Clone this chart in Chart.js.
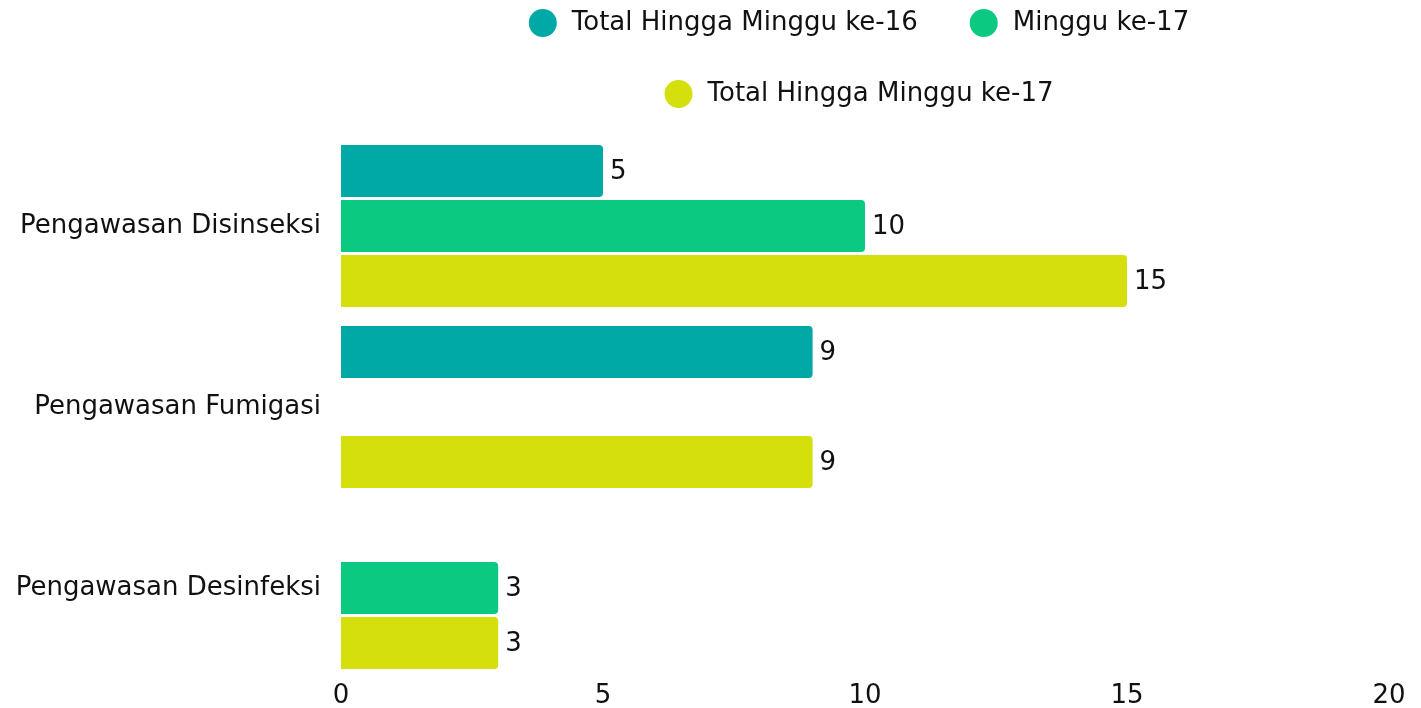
<!DOCTYPE html>
<html>
<head>
<meta charset="utf-8">
<script src="https://cdn.jsdelivr.net/npm/chart.js@4.4.1/dist/chart.umd.min.js"></script>
<style>
  html, body { margin: 0; padding: 0; background: #ffffff; }
  #wrap { position: relative; width: 1421px; height: 708px; }
</style>
</head>
<body>
<div id="wrap"><canvas id="c"></canvas></div>
<script>
const categories = ['Pengawasan Disinseksi', 'Pengawasan Fumigasi', 'Pengawasan Desinfeksi'];
const seriesNames = ['Total Hingga Minggu ke-16', 'Minggu ke-17', 'Total Hingga Minggu ke-17'];
const totalMinggu16 = [5, 9, null];
const minggu17 = [10, null, 3];
const totalMinggu17 = [15, 9, 3];
const xTicks = [0, 5, 10, 15, 20];
const seriesColors = ['#00A8A6', '#0BC980', '#D4DF0B'];

const FONT = '"DejaVu Sans", sans-serif';
const FONT_SIZE = 26;
const TEXT_COLOR = '#111111';

const legendPlugin = {
  id: 'customLegend',
  afterDraw(chart) {
    const ctx = chart.ctx;
    const ds = chart.data.datasets;
    const rows = [[0, 1], [2]];
    const rowY = [23, 94];
    const centerX = 859;
    const r = 14, gapText = 15, gapItem = 52;
    ctx.save();
    ctx.font = FONT_SIZE + 'px ' + FONT;
    rows.forEach((row, ri) => {
      const widths = row.map(i => 2 * r + gapText + ctx.measureText(ds[i].label).width);
      const total = widths.reduce((a, b) => a + b, 0) + gapItem * (row.length - 1);
      let x = centerX - total / 2;
      row.forEach((i, k) => {
        const cy = rowY[ri];
        ctx.beginPath();
        ctx.arc(x + r, cy, r, 0, Math.PI * 2);
        ctx.fillStyle = ds[i].backgroundColor;
        ctx.fill();
        ctx.fillStyle = TEXT_COLOR;
        ctx.textAlign = 'left';
        ctx.textBaseline = 'alphabetic';
        ctx.fillText(ds[i].label, x + 2 * r + gapText, cy + 6.5);
        x += widths[k] + gapItem;
      });
    });
    ctx.restore();
  }
};

const valueLabelPlugin = {
  id: 'valueLabels',
  afterDatasetsDraw(chart) {
    const ctx = chart.ctx;
    ctx.save();
    ctx.font = FONT_SIZE + 'px ' + FONT;
    ctx.fillStyle = TEXT_COLOR;
    ctx.textAlign = 'left';
    ctx.textBaseline = 'middle';
    chart.data.datasets.forEach((d, di) => {
      const meta = chart.getDatasetMeta(di);
      meta.data.forEach((el, i) => {
        const v = d.data[i];
        if (v === null || v === undefined) return;
        ctx.fillText(String(v), el.x + 7, el.y + 1);
      });
    });
    ctx.restore();
  }
};

const datasets = [totalMinggu16, minggu17, totalMinggu17].map((vals, i) => ({
  label: seriesNames[i],
  data: vals,
  backgroundColor: seriesColors[i],
  borderWidth: 0,
  borderRadius: 4,
  borderSkipped: 'start',
  categoryPercentage: 0.912,
  barPercentage: 0.945
}));

new Chart(document.getElementById('c'), {
  type: 'bar',
  data: { labels: categories, datasets },
  options: {
    indexAxis: 'y',
    responsive: true,
    maintainAspectRatio: false,
    animation: false,
    layout: { padding: { top: 135.5, right: 32, left: 0, bottom: 0 } },
    plugins: {
      legend: { display: false },
      tooltip: { enabled: false }
    },
    scales: {
      x: {
        min: xTicks[0],
        max: xTicks[xTicks.length - 1],
        afterBuildTicks(scale) { scale.ticks = xTicks.map(v => ({ value: v })); },
        afterFit(scale) { scale.height = 29.5; },
        grid: { display: false, drawTicks: false },
        border: { display: false },
        ticks: { padding: 2, color: TEXT_COLOR, font: { family: FONT, size: FONT_SIZE }, maxRotation: 0 }
      },
      y: {
        afterFit(scale) {
          scale.width = 341;
          scale.paddingTop = 0;
          scale.paddingBottom = 0;
        },
        grid: { display: false, drawTicks: false },
        border: { display: false },
        ticks: { padding: 20, color: TEXT_COLOR, font: { family: FONT, size: FONT_SIZE } }
      }
    }
  },
  plugins: [legendPlugin, valueLabelPlugin]
});
</script>
</body>
</html>
